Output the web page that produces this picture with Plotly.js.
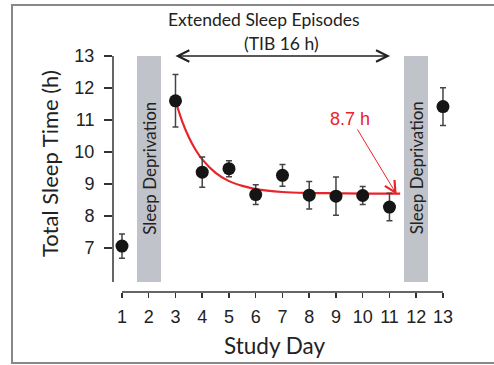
<!DOCTYPE html>
<html>
<head>
<meta charset="utf-8">
<script src="https://cdn.plot.ly/plotly-3.0.1.min.js"></script>
<style>html,body{margin:0;padding:0;background:#fff;}#chart{width:494px;height:365px;}</style>
</head>
<body>
<div id="chart"></div>
<script>
// Data
const studyDays = [1, 3, 4, 5, 6, 7, 8, 9, 10, 11, 13];
const sleepTime = [7.06, 11.6, 9.37, 9.48, 8.67, 9.27, 8.65, 8.62, 8.64, 8.28, 11.42];
const sleepErr  = [0.38, 0.82, 0.47, 0.25, 0.31, 0.34, 0.43, 0.60, 0.28, 0.43, 0.59];

// Fitted decay curve
const fitDays  = [3.0, 3.25, 3.5, 3.75, 4.0, 4.5, 5.0, 5.5, 6.0, 7.0, 8.0, 9.0, 10.0, 11.4];
const fitSleep = [11.6, 10.96, 10.46, 10.07, 9.77, 9.35, 9.09, 8.94, 8.84, 8.75, 8.72, 8.71, 8.70, 8.70];

// Sleep deprivation nights
const depDays = [2, 12];
const depLabel = 'Sleep Deprivation';
const depBottom = 5.94, depTop = 13;

const xTicks = [1,2,3,4,5,6,7,8,9,10,11,12,13];
const yTicks = [7,8,9,10,11,12,13];

const asymptote = 8.7;
const episodeStart = 2.94, episodeEnd = 11.02;

const gill = 'Lato, "Open Sans", sans-serif';
const arial = '"Liberation Sans", Arial, sans-serif';

const traces = [
  {
    type: 'bar', x: depDays, y: depDays.map(() => depTop - depBottom), base: depBottom,
    width: 0.9, marker: {color: '#c0c3ca', line: {width: 0}}, hoverinfo: 'skip', showlegend: false
  },
  {
    type: 'scatter', mode: 'lines', x: fitDays, y: fitSleep,
    line: {color: '#e8242a', width: 2.2, shape: 'spline'}, showlegend: false
  },
  {
    type: 'scatter', mode: 'markers', x: studyDays, y: sleepTime,
    error_y: {type: 'data', array: sleepErr, visible: true, color: '#444', thickness: 1.5, width: 3},
    marker: {color: '#151515', size: 13}, cliponaxis: false, showlegend: false
  }
];

const layout = {
  width: 494, height: 365,
  margin: {l: 113, r: 43, t: 56, b: 73},
  paper_bgcolor: '#fff', plot_bgcolor: 'rgba(0,0,0,0)',
  showlegend: false, bargap: 0,
  xaxis: {
    range: [0.664, 13.3], tickvals: xTicks, ticktext: xTicks.map(String),
    ticks: 'outside', ticklen: 5, tickwidth: 1.5, tickcolor: '#333',
    tickfont: {family: arial, size: 18, color: '#222'}, ticklabelstandoff: 3,
    showline: false, showgrid: false, zeroline: false, fixedrange: true
  },
  yaxis: {
    range: [5.625, 13], tickvals: yTicks, ticktext: yTicks.map(String),
    ticks: 'outside', ticklen: 8, tickwidth: 1.5, tickcolor: '#333',
    tickfont: {family: arial, size: 18, color: '#222'}, ticklabelstandoff: 6,
    showline: false, showgrid: false, zeroline: false, fixedrange: true
  },
  shapes: [
    // y axis line
    {type: 'line', xref: 'paper', yref: 'y', x0: 0, x1: 0, y0: depBottom, y1: 13, line: {color: '#333', width: 1.5}},
    // x axis line
    {type: 'line', xref: 'x', yref: 'paper', x0: xTicks[0], x1: xTicks[xTicks.length-1], y0: 0, y1: 0, line: {color: '#333', width: 1.5}},
    // figure frame
    {type: 'rect', xref: 'paper', yref: 'paper', x0: -0.2988, x1: 1.14, y0: -0.3008, y1: 1.216, line: {color: '#888', width: 2}, fillcolor: 'rgba(0,0,0,0)'}
  ],
  annotations: [
    {xref: 'paper', yref: 'paper', x: (263.5-113)/338, y: (292-20)/236, text: 'Extended Sleep Episodes', showarrow: false,
     font: {family: gill, size: 17.5, color: '#222'}, xanchor: 'center', yanchor: 'middle'},
    {xref: 'paper', yref: 'paper', x: (281-113)/338, y: (292-44)/236, text: '(TIB 16 h)', showarrow: false,
     font: {family: gill, size: 17.5, color: '#222'}, xanchor: 'center', yanchor: 'middle'},
    // double arrow for extended sleep episodes
    {xref: 'x', yref: 'y', axref: 'x', ayref: 'y', x: episodeEnd, y: 13, ax: episodeStart, ay: 13, text: '',
     showarrow: true, arrowside: 'end+start', arrowhead: 5, startarrowhead: 5, arrowsize: 1.5, startarrowsize: 1.5,
     arrowwidth: 1.5, arrowcolor: '#222', standoff: 0, startstandoff: 0},
    // red arrow to asymptote
    {xref: 'x', yref: 'y', axref: 'x', ayref: 'y', x: 11.27, y: asymptote - 0.03, ax: 9.77, ay: 10.75, text: '',
     showarrow: true, arrowhead: 5, arrowsize: 2.2, arrowwidth: 1, arrowcolor: '#e8242a', standoff: 0},
    {xref: 'x', yref: 'y', x: 9.52, y: 11.04, text: asymptote.toFixed(1) + ' h', showarrow: false,
     font: {family: arial, size: 18, color: '#e8242a'}, xanchor: 'center', yanchor: 'middle'},
    // sleep deprivation labels
    {xref: 'x', yref: 'y', x: depDays[0], y: 9.5, text: depLabel, textangle: -90, showarrow: false,
     font: {family: gill, size: 17, color: '#222'}, xanchor: 'center', yanchor: 'middle'},
    {xref: 'x', yref: 'y', x: depDays[1], y: 9.5, text: depLabel, textangle: -90, showarrow: false,
     font: {family: gill, size: 17, color: '#222'}, xanchor: 'center', yanchor: 'middle'},
    // axis titles
    {xref: 'paper', yref: 'paper', x: (49-113)/338, y: (292-164)/236, text: 'Total Sleep Time (h)', textangle: -90, showarrow: false,
     font: {family: gill, size: 22, color: '#222'}, xanchor: 'center', yanchor: 'middle'},
    {xref: 'paper', yref: 'paper', x: (274-113)/338, y: (292-345)/236, text: 'Study Day', showarrow: false,
     font: {family: gill, size: 22.5, color: '#222'}, xanchor: 'center', yanchor: 'middle'}
  ]
};

Plotly.newPlot('chart', traces, layout, {displayModeBar: false, staticPlot: true});
</script>
</body>
</html>
